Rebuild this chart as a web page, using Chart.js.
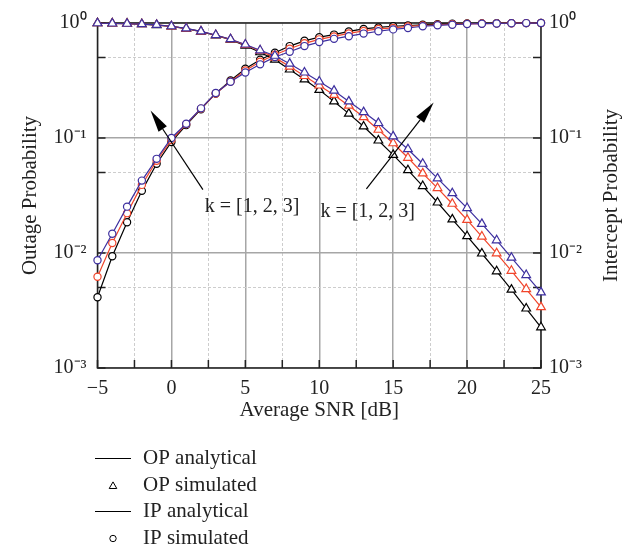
<!DOCTYPE html>
<html><head><meta charset="utf-8">
<script src="https://cdn.jsdelivr.net/npm/chart.js@4.4.1/dist/chart.umd.min.js"></script>
<style>html,body{margin:0;padding:0;background:#fff;}canvas{display:block;}</style>
</head><body>
<canvas id="c" width="644" height="551"></canvas>
<script>
// ---------- data ----------
const snr = [-5,-4,-3,-2,-1,0,1,2,3,4,5,6,7,8,9,10,11,12,13,14,15,16,17,18,19,20,21,22,23,24,25];
const opK1 = [0.995,0.99,0.985,0.975,0.96,0.933,0.893,0.841,0.78,0.717,0.634,0.557,0.48,0.394,0.323,0.262,0.208,0.163,0.126,0.0951,0.0713,0.0525,0.0382,0.0275,0.0196,0.014,0.0099,0.00693,0.0048,0.00329,0.00226];
const opK2 = [0.995,0.99,0.985,0.975,0.962,0.935,0.895,0.843,0.783,0.72,0.646,0.574,0.50,0.418,0.346,0.286,0.237,0.191,0.152,0.118,0.09,0.0673,0.0492,0.0367,0.0268,0.0194,0.0139,0.00994,0.007,0.00486,0.00338];
const opK3 = [0.995,0.99,0.985,0.976,0.963,0.937,0.897,0.845,0.786,0.723,0.65,0.579,0.519,0.443,0.371,0.31,0.258,0.208,0.168,0.135,0.1034,0.0799,0.0597,0.0446,0.0331,0.0246,0.0179,0.0129,0.0091,0.00643,0.00455];
const ipK1 = [0.00412,0.00937,0.0185,0.0347,0.0597,0.0924,0.1294,0.178,0.244,0.316,0.401,0.48,0.551,0.63,0.7,0.753,0.793,0.845,0.888,0.915,0.937,0.951,0.965,0.976,0.984,0.99,0.993,0.995,0.997,0.998,0.999];
const ipK2 = [0.00621,0.0122,0.0222,0.0391,0.0634,0.0961,0.132,0.18,0.244,0.31,0.386,0.461,0.53,0.597,0.666,0.721,0.765,0.812,0.853,0.888,0.906,0.933,0.951,0.965,0.976,0.984,0.989,0.993,0.996,0.998,0.999];
const ipK3 = [0.00865,0.0147,0.0253,0.0426,0.0659,0.1,0.133,0.181,0.246,0.308,0.371,0.437,0.506,0.562,0.63,0.682,0.728,0.768,0.809,0.848,0.88,0.905,0.937,0.955,0.967,0.98,0.986,0.991,0.995,0.998,0.999];

const xTicks = [-5,-2.5,0,2.5,5,7.5,10,12.5,15,17.5,20,22.5,25];
const yTicks = [0.001,0.005,0.01,0.05,0.1,0.5,1];
const yTickLabels = {0:'10\u2070', '-1':'10\u207B\u00B9', '-2':'10\u207B\u00B2', '-3':'10\u207B\u00B3'};
const xTitle = 'Average SNR [dB]';
const yTitle = 'Outage Probability';
const y2Title = 'Intercept Probability';
const kLabel = 'k = [1, 2, 3]';
const legendLabels = ['OP analytical','OP simulated','IP analytical','IP simulated'];
// annotation anchors in data units: [snr, probability]
const arrowOP = {from:[2.13,0.0356], to:[-1.41,0.173]};
const arrowIP = {from:[13.19,0.0361], to:[17.74,0.204]};
const labelOP = [2.26,0.0251];
const labelIP = [10.08,0.0227];

// ---------- styles ----------
const SERIF = "'Liberation Serif','Times New Roman',serif";
const BLACK = '#000000', RED = '#f1452b', BLUE = '#3d2f9f';
const TEXT = '#222222';

function series(arr){ return snr.map((x,i)=>({x:x, y:arr[i]})); }
function ds(arr, color, style, r){
  return {data:series(arr), borderColor:color, backgroundColor:color, borderWidth:1.2,
    pointStyle:style, pointRadius:r, pointBorderWidth:1.2, pointBackgroundColor:'#ffffff',
    pointBorderColor:color, tension:0, clip:false, fill:false};
}
const isDecade = v => Math.abs(Math.log10(v) - Math.round(Math.log10(v))) < 1e-6;
const isMajorX = v => Math.abs(v % 5) < 1e-6;
const fmtX = v => (v < 0 ? '\u2212' + Math.abs(v) : String(v));

const whiteBg = {id:'whiteBg', beforeDraw(c){const x=c.ctx;x.save();x.fillStyle='#fff';x.fillRect(0,0,c.width,c.height);x.restore();}};

const frameTicks = {
  id:'frameTicks',
  beforeDatasetsDraw(chart){
    const {ctx, chartArea:a, scales} = chart;
    ctx.save();
    ctx.strokeStyle = '#222'; ctx.lineWidth = 1.5;
    ctx.beginPath();
    scales.y.ticks.forEach(t=>{
      const py = scales.y.getPixelForValue(t.value);
      ctx.moveTo(a.left, py); ctx.lineTo(a.left+8, py);
      ctx.moveTo(a.right, py); ctx.lineTo(a.right-8, py);
    });
    scales.x.ticks.forEach(t=>{
      const px = scales.x.getPixelForValue(t.value);
      ctx.moveTo(px, a.bottom); ctx.lineTo(px, a.bottom-8);
    });
    ctx.stroke();
    ctx.strokeRect(a.left, a.top, a.right-a.left, a.bottom-a.top);
    ctx.restore();
  }
};

const annotations = {
  id:'annotations',
  afterDatasetsDraw(chart){
    const {ctx, scales:{x, y}} = chart;
    const P = p => [x.getPixelForValue(p[0]), y.getPixelForValue(p[1])];
    ctx.save();
    [arrowOP, arrowIP].forEach(ar=>{
      const [x0,y0] = P(ar.from), [x1,y1] = P(ar.to);
      const ang = Math.atan2(y1-y0, x1-x0);
      const L = 22, W = 5;
      const bx = x1 - L*Math.cos(ang), by = y1 - L*Math.sin(ang);
      ctx.strokeStyle = '#000'; ctx.lineWidth = 1.2;
      ctx.beginPath(); ctx.moveTo(x0,y0); ctx.lineTo(bx,by); ctx.stroke();
      ctx.fillStyle = '#000';
      ctx.beginPath();
      ctx.moveTo(x1,y1);
      ctx.lineTo(bx + W*Math.sin(ang), by - W*Math.cos(ang));
      ctx.lineTo(bx - W*Math.sin(ang), by + W*Math.cos(ang));
      ctx.closePath(); ctx.fill();
    });
    ctx.fillStyle = TEXT;
    ctx.font = "20px " + SERIF;
    ctx.textAlign = 'left'; ctx.textBaseline = 'middle';
    [labelOP, labelIP].forEach(l=>{ const [px,py] = P(l); ctx.fillText(kLabel, px, py); });
    ctx.restore();
  }
};

const extras = {
  id:'extras',
  afterDraw(chart){
    const {ctx, chartArea:a} = chart;
    ctx.save();
    // right axis title (reads bottom to top)
    ctx.fillStyle = TEXT;
    ctx.font = "21px " + SERIF;
    ctx.translate(611, (a.top+a.bottom)/2);
    ctx.rotate(-Math.PI/2);
    ctx.textAlign = 'center'; ctx.textBaseline = 'middle';
    ctx.fillText(y2Title, 0, 0);
    ctx.restore();
    // legend
    ctx.save();
    const rows = [458.5, 485.5, 511.5, 538.5];
    ctx.font = "21px " + SERIF;
    ctx.textAlign = 'left'; ctx.textBaseline = 'middle';
    rows.forEach((ry, i)=>{
      ctx.strokeStyle = '#000'; ctx.lineWidth = 1;
      if (i === 0 || i === 2){
        ctx.beginPath(); ctx.moveTo(95, ry); ctx.lineTo(131, ry); ctx.stroke();
      } else if (i === 1){
        const r = 4.4, cx = 113, cy = ry + 0.8;
        ctx.beginPath();
        ctx.moveTo(cx, cy - r);
        ctx.lineTo(cx + r*0.866, cy + r*0.5);
        ctx.lineTo(cx - r*0.866, cy + r*0.5);
        ctx.closePath(); ctx.stroke();
      } else {
        ctx.beginPath(); ctx.arc(113, ry, 3.2, 0, Math.PI*2); ctx.stroke();
      }
      ctx.fillStyle = TEXT;
      ctx.fillText(legendLabels[i], 143, ry);
    });
    ctx.restore();
  }
};

new Chart(document.getElementById('c'), {
  type:'line',
  data:{datasets:[
    ds(opK3, BLUE, 'triangle', 5), ds(ipK3, BLUE, 'circle', 3.6),
    ds(opK2, RED, 'triangle', 5), ds(ipK2, RED, 'circle', 3.6),
    ds(opK1, BLACK, 'triangle', 5), ds(ipK1, BLACK, 'circle', 3.6)
  ]},
  options:{
    responsive:false, animation:false, devicePixelRatio:1,
    layout:{padding:{left:0, right:0, top:20, bottom:128}},
    plugins:{legend:{display:false}, tooltip:{enabled:false}},
    scales:{
      x:{
        type:'linear', min:-5, max:25,
        afterBuildTicks: s => { s.ticks = xTicks.map(v=>({value:v})); },
        afterFit: s => { s.height = 55; },
        ticks:{autoSkip:false, maxRotation:0, padding:9, color:TEXT,
          font:{family:SERIF, size:20},
          callback: v => isMajorX(v) ? fmtX(v) : ''},
        grid:{drawTicks:false,
          color: c => (c.tick && isMajorX(c.tick.value)) ? '#a6a6a6' : '#cdcdcd',
          lineWidth: c => (c.tick && isMajorX(c.tick.value)) ? 1.5 : 1},
        border:{display:false, dash: c => (c.tick && !isMajorX(c.tick.value)) ? [3,2] : []},
        title:{display:true, text:xTitle, color:TEXT, font:{family:SERIF, size:21}, padding:{top:0, bottom:0}}
      },
      y:{
        type:'logarithmic', position:'left', min:0.001, max:1,
        afterBuildTicks: s => { s.ticks = yTicks.map(v=>({value:v})); },
        afterFit: s => { s.width = 97.5; },
        ticks:{autoSkip:false, padding:11, color:TEXT, font:{family:SERIF, size:20},
          callback: v => isDecade(v) ? yTickLabels[String(Math.round(Math.log10(v)))] : ''},
        grid:{drawTicks:false,
          color: c => (c.tick && isDecade(c.tick.value)) ? '#a6a6a6' : '#cdcdcd',
          lineWidth: c => (c.tick && isDecade(c.tick.value)) ? 1.5 : 1},
        border:{display:false, dash: c => (c.tick && !isDecade(c.tick.value)) ? [3,2] : []},
        title:{display:true, text:yTitle, color:TEXT, font:{family:SERIF, size:21}, padding:{top:17.5, bottom:0}}
      },
      y2:{
        type:'logarithmic', position:'right', min:0.001, max:1,
        afterBuildTicks: s => { s.ticks = yTicks.map(v=>({value:v})); },
        afterFit: s => { s.width = 103; },
        ticks:{autoSkip:false, padding:8, color:TEXT, font:{family:SERIF, size:20},
          callback: v => isDecade(v) ? yTickLabels[String(Math.round(Math.log10(v)))] : ''},
        grid:{display:false, drawTicks:false},
        border:{display:false}
      }
    }
  },
  plugins:[whiteBg, frameTicks, annotations, extras]
});
</script>
</body></html>
